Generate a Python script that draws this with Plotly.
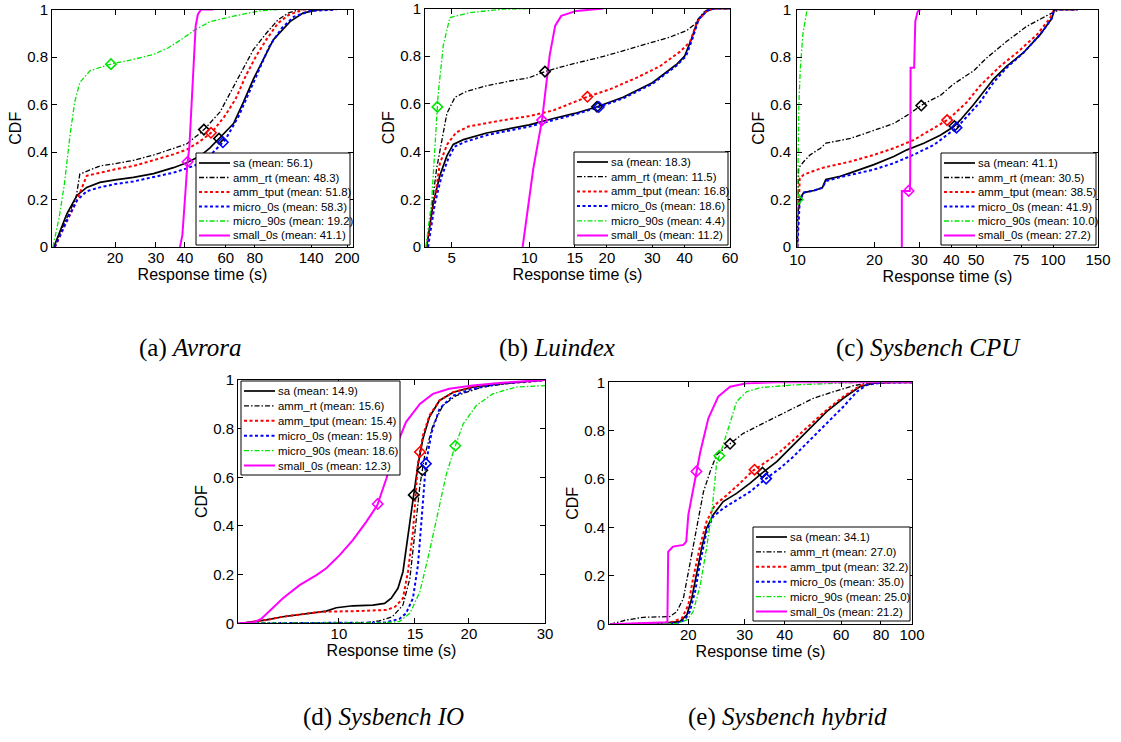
import numpy as np
import plotly.graph_objects as go

# ---------------- data ----------------
SERIES = ["sa", "amm_rt", "amm_tput", "micro_0s", "micro_90s", "small_0s"]

# (a) Avrora
AVRORA_MEANS = [56.1, 48.3, 51.8, 58.3, 19.2, 41.1]
AVRORA_SA_X = [10.9, 12.4, 13.7, 15.1, 17.2, 20, 24, 29.3, 35.7, 40.7, 46.5, 51.3, 56.7, 64.8, 71.5, 78.9, 87.1, 96.2, 113.5, 129.6, 153, 175]
AVRORA_SA_Y = [0, 0.14, 0.217, 0.251, 0.272, 0.283, 0.293, 0.309, 0.334, 0.355, 0.383, 0.417, 0.461, 0.52, 0.61, 0.707, 0.79, 0.873, 0.949, 0.986, 1.0, 1.0]
AVRORA_RT_X = [10.9, 12.3, 13.6, 14.1, 17.2, 20, 24, 29.3, 35.7, 40.7, 46.5, 49.0, 56.7, 64.8, 71.5, 78.9, 89.7, 100.6, 112, 125, 170]
AVRORA_RT_Y = [0, 0.113, 0.21, 0.307, 0.341, 0.351, 0.365, 0.387, 0.414, 0.434, 0.479, 0.5, 0.569, 0.673, 0.756, 0.831, 0.9, 0.956, 0.986, 1.0, 1.0]
AVRORA_TP_X = [11.0, 12.3, 13.7, 15.1, 17.2, 20, 24, 29.3, 35.7, 40.7, 46.5, 52.6, 59.8, 66.2, 73.2, 81.1, 89.7, 100.6, 112, 130, 175]
AVRORA_TP_Y = [0, 0.1, 0.196, 0.30, 0.313, 0.327, 0.341, 0.365, 0.39, 0.41, 0.445, 0.486, 0.555, 0.624, 0.721, 0.804, 0.873, 0.942, 0.977, 1.0, 1.0]
AVRORA_M0_X = [11.0, 12.4, 13.7, 15.1, 17.2, 20, 24, 29.3, 35.7, 40.7, 46.5, 52.6, 59.8, 68.5, 75.7, 83.6, 92.5, 104.5, 118, 139, 180]
AVRORA_M0_Y = [0, 0.113, 0.196, 0.235, 0.251, 0.265, 0.276, 0.293, 0.313, 0.331, 0.352, 0.396, 0.452, 0.555, 0.652, 0.749, 0.845, 0.921, 0.97, 0.994, 1.0]
AVRORA_M90_X = [10.8, 11.5, 12.1, 12.8, 13.4, 14.1, 15.6, 19.0, 24, 29.3, 33.8, 38.5, 43.8, 51.3, 64.8, 83.6, 100]
AVRORA_M90_Y = [0, 0.127, 0.265, 0.472, 0.61, 0.693, 0.742, 0.769, 0.79, 0.811, 0.838, 0.873, 0.912, 0.949, 0.972, 0.994, 1.0]
AVRORA_SM_X = [38.1, 39.0, 40.0, 41.0, 41.8, 42.5, 43.5, 44.5, 45.5, 47, 53]
AVRORA_SM_Y = [0, 0.05, 0.2, 0.35, 0.42, 0.55, 0.75, 0.93, 0.98, 1.0, 1.0]

# (b) Luindex
LUINDEX_MEANS = [18.3, 11.5, 16.8, 18.6, 4.4, 11.2]
LUINDEX_SA_X = [4.0, 4.25, 4.5, 4.79, 5.07, 5.55, 6.83, 8.42, 10, 12.4, 15, 18.2, 23.1, 30, 37.2, 40, 42.6, 45.2, 48.7, 52, 60]
LUINDEX_SA_Y = [0, 0.19, 0.30, 0.382, 0.43, 0.45, 0.478, 0.498, 0.512, 0.539, 0.56, 0.587, 0.628, 0.689, 0.765, 0.80, 0.874, 0.956, 0.99, 1.0, 1.0]
LUINDEX_RT_X = [4.0, 4.2, 4.37, 4.79, 5.15, 5.72, 6.83, 8.42, 10, 11.6, 14.4, 19.4, 26.1, 35.1, 40.8, 43.9, 47.3, 50, 60]
LUINDEX_RT_Y = [0, 0.18, 0.328, 0.56, 0.628, 0.653, 0.676, 0.696, 0.71, 0.737, 0.765, 0.799, 0.84, 0.88, 0.908, 0.935, 0.983, 1.0, 1.0]
LUINDEX_TP_X = [4.0, 4.3, 4.5, 4.8, 5.2, 5.8, 7.94, 10, 12.4, 16.9, 20.6, 26.1, 32.1, 38.4, 42, 44.6, 48.7, 52, 60]
LUINDEX_TP_Y = [0, 0.2, 0.35, 0.43, 0.48, 0.505, 0.532, 0.549, 0.573, 0.631, 0.662, 0.71, 0.758, 0.819, 0.86, 0.942, 0.99, 1.0, 1.0]
LUINDEX_M0_X = [4.05, 4.3, 4.55, 4.85, 5.12, 5.6, 6.9, 8.5, 10, 12.4, 15, 18.6, 23.1, 30, 37.2, 40.5, 42.8, 45.4, 48.9, 52, 60]
LUINDEX_M0_Y = [0, 0.18, 0.29, 0.37, 0.42, 0.44, 0.47, 0.49, 0.505, 0.532, 0.555, 0.587, 0.623, 0.684, 0.76, 0.80, 0.87, 0.955, 0.99, 1.0, 1.0]
LUINDEX_M90_X = [3.97, 4.18, 4.43, 4.64, 4.92, 5.89, 7.94, 10.3]
LUINDEX_M90_Y = [0, 0.19, 0.64, 0.846, 0.962, 0.983, 0.997, 1.0]
LUINDEX_SM_X = [9.42, 9.77, 10.36, 11.2, 12.0, 12.6, 13.3, 15.2, 19.4]
LUINDEX_SM_Y = [0, 0.123, 0.328, 0.532, 0.805, 0.928, 0.969, 0.99, 1.0]

# (c) Sysbench CPU
CPU_MEANS = [41.1, 30.5, 38.5, 41.9, 10.0, 27.2]
CPU_SA_X = [9.98, 10.0, 10.27, 10.58, 11.6, 12.5, 12.9, 14.7, 16.1, 19.9, 23.8, 26.8, 31.2, 36.2, 40.8, 43.3, 48.9, 58.5, 65.9, 76.6, 89, 99, 101, 103, 123]
CPU_SA_Y = [0, 0.139, 0.208, 0.229, 0.238, 0.249, 0.284, 0.298, 0.312, 0.347, 0.381, 0.409, 0.437, 0.471, 0.506, 0.534, 0.60, 0.707, 0.762, 0.818, 0.894, 0.963, 0.997, 1.0, 1.0]
CPU_RT_X = [9.98, 10.1, 10.58, 11.2, 12.3, 12.9, 16.1, 19.9, 23.8, 26.8, 31.2, 36.2, 40.8, 48.9, 55.1, 65.9, 78.9, 94.5, 106, 125]
CPU_RT_Y = [0, 0.333, 0.36, 0.388, 0.416, 0.437, 0.457, 0.492, 0.52, 0.554, 0.603, 0.638, 0.686, 0.742, 0.797, 0.866, 0.929, 0.974, 1.0, 1.0]
CPU_TP_X = [9.98, 10.2, 10.58, 12.5, 16.1, 19.9, 23.8, 28.4, 33.1, 39.0, 46.0, 51.8, 62.2, 72.2, 86.5, 97.3, 101, 125]
CPU_TP_Y = [0, 0.29, 0.305, 0.333, 0.36, 0.388, 0.416, 0.45, 0.492, 0.538, 0.61, 0.679, 0.762, 0.818, 0.894, 0.963, 1.0, 1.0]
CPU_M0_X = [9.98, 10.2, 10.58, 11.6, 12.5, 12.9, 14.7, 19.9, 23.8, 28.4, 34.2, 40.8, 42.3, 51.8, 58.5, 65.9, 76.6, 89, 99, 101, 125]
CPU_M0_Y = [0, 0.194, 0.229, 0.238, 0.249, 0.277, 0.294, 0.326, 0.353, 0.388, 0.43, 0.492, 0.506, 0.61, 0.693, 0.755, 0.818, 0.894, 0.963, 1.0, 1.0]
CPU_M90_X = [9.95, 10.0, 10.05, 10.12, 10.25, 10.5, 10.9]
CPU_M90_Y = [0, 0.2, 0.45, 0.6, 0.75, 0.9, 1.0]
CPU_SM_X = [25.6, 25.6, 27.5, 27.6, 27.7, 28.6, 28.9, 29.5, 30.2]
CPU_SM_Y = [0, 0.236, 0.236, 0.28, 0.755, 0.755, 0.95, 0.99, 1.0]

# (d) Sysbench IO
IO_MEANS = [14.9, 15.6, 15.4, 15.9, 18.6, 12.3]
IO_SA_X = [5.95, 6.8, 7.42, 8.11, 8.87, 9.35, 9.86, 10.77, 11.99, 12.76, 13.22, 13.7, 14.07, 14.45, 14.84, 15.24, 15.65, 16.2, 17.1, 18.4, 20.4, 23.5, 28.1, 30]
IO_SA_Y = [0, 0.014, 0.027, 0.037, 0.045, 0.05, 0.064, 0.072, 0.075, 0.082, 0.103, 0.144, 0.212, 0.349, 0.506, 0.649, 0.759, 0.848, 0.916, 0.95, 0.971, 0.984, 0.994, 1.0]
IO_RT_X = [5.9, 9.0, 11.6, 12.4, 13.3, 14.07, 14.6, 15.0, 15.4, 15.8, 16.5, 17.4, 18.7, 21.5, 25.7, 30]
IO_RT_Y = [0, 0.0, 0.003, 0.01, 0.027, 0.075, 0.185, 0.376, 0.567, 0.69, 0.813, 0.895, 0.936, 0.971, 0.991, 1.0]
IO_TP_X = [5.95, 6.8, 7.42, 8.11, 8.87, 9.35, 9.86, 10.9, 12.9, 13.5, 14.07, 14.45, 14.84, 15.24, 15.65, 16.2, 17.1, 18.4, 20.4, 23.5, 28.1, 30]
IO_TP_Y = [0, 0.014, 0.027, 0.037, 0.045, 0.048, 0.048, 0.05, 0.055, 0.068, 0.103, 0.212, 0.376, 0.66, 0.772, 0.854, 0.916, 0.95, 0.971, 0.984, 0.994, 1.0]
IO_M0_X = [5.9, 12.8, 13.8, 14.3, 14.84, 15.24, 15.5, 15.9, 16.4, 17.1, 18.4, 20.4, 23.5, 30]
IO_M0_Y = [0, 0.003, 0.018, 0.041, 0.103, 0.239, 0.403, 0.656, 0.786, 0.882, 0.936, 0.964, 0.984, 1.0]
IO_M90_X = [5.9, 12.5, 13.8, 14.6, 15.4, 16.2, 17.1, 17.7, 18.5, 19.4, 20.8, 22.7, 25.7, 30]
IO_M90_Y = [0, 0.002, 0.007, 0.041, 0.13, 0.294, 0.485, 0.608, 0.718, 0.82, 0.895, 0.943, 0.971, 0.977]
IO_SM_X = [5.84, 6.32, 6.61, 7.03, 7.42, 8.11, 8.87, 9.35, 10.04, 10.77, 11.57, 12.27, 12.88, 13.6, 14.3, 15.4, 16.5, 18.0, 20.4, 23.5, 30]
IO_SM_Y = [0, 0.003, 0.018, 0.062, 0.103, 0.157, 0.198, 0.226, 0.28, 0.342, 0.417, 0.485, 0.595, 0.731, 0.827, 0.902, 0.943, 0.964, 0.977, 0.988, 1.0]

# (e) Sysbench hybrid
HY_MEANS = [34.1, 27.0, 32.2, 35.0, 25.0, 21.2]
HY_SA_X = [11.4, 16.3, 18.8, 19.8, 20.5, 21.3, 22.0, 22.8, 23.9, 25.7, 28.3, 31.2, 33.9, 37.8, 42.6, 48, 54.1, 61, 68.8, 75.7, 87.5, 100]
HY_SA_Y = [0, 0.004, 0.011, 0.039, 0.107, 0.218, 0.314, 0.397, 0.452, 0.507, 0.541, 0.583, 0.624, 0.672, 0.741, 0.81, 0.879, 0.934, 0.982, 0.996, 1.0, 1.0]
HY_RT_X = [11.4, 12.8, 14.5, 17.5, 18.4, 19.3, 20.2, 21.3, 22.3, 23.4, 24.5, 26.7, 29.7, 33.5, 37.8, 42.6, 49.2, 56.8, 65.6, 72.2, 85, 100]
HY_RT_Y = [0, 0.018, 0.029, 0.032, 0.052, 0.107, 0.245, 0.41, 0.548, 0.631, 0.7, 0.741, 0.789, 0.824, 0.858, 0.893, 0.934, 0.961, 0.986, 0.996, 1.0, 1.0]
HY_TP_X = [11.4, 16.3, 17.9, 19.1, 20, 20.7, 21.8, 22.8, 24.2, 26.4, 29, 31.8, 35.1, 38.7, 42.6, 48, 54.1, 61, 68.8, 75.7, 87.5, 100]
HY_TP_Y = [0, 0.004, 0.011, 0.025, 0.08, 0.19, 0.328, 0.424, 0.493, 0.534, 0.583, 0.634, 0.672, 0.713, 0.762, 0.824, 0.886, 0.941, 0.986, 0.996, 1.0, 1.0]
HY_M0_X = [11.4, 18.4, 19.5, 20.2, 21, 21.8, 22.8, 23.9, 25.7, 28.3, 31.2, 34.5, 38.7, 42.6, 48, 54.1, 61, 67.2, 72.2, 80.8, 87.5, 100]
HY_M0_Y = [0, 0.004, 0.018, 0.052, 0.135, 0.259, 0.383, 0.445, 0.479, 0.514, 0.548, 0.596, 0.645, 0.693, 0.762, 0.831, 0.899, 0.961, 0.989, 0.999, 1.0, 1.0]
HY_M90_X = [11.4, 18.4, 19.8, 20.7, 21.8, 22.8, 23.7, 24.5, 25.7, 27.0, 28.3, 30.4, 33.5, 42.6, 54.1, 68.8, 100]
HY_M90_Y = [0, 0.003, 0.018, 0.052, 0.163, 0.314, 0.466, 0.664, 0.741, 0.837, 0.92, 0.961, 0.978, 0.989, 0.996, 1.0, 1.0]
HY_SM_X = [11.4, 17.2, 17.3, 17.9, 19.3, 19.7, 20.0, 20.7, 21.8, 23.1, 24.8, 27.0, 30.4, 37.8, 100]
HY_SM_Y = [0, 0.008, 0.30, 0.321, 0.328, 0.342, 0.452, 0.562, 0.713, 0.851, 0.941, 0.982, 0.996, 1.0, 1.0]

# tick labels
Y_TICKS = [0, 0.2, 0.4, 0.6, 0.8, 1.0]
Y_TICKTEXT = ["0", "0.2", "0.4", "0.6", "0.8", "1"]
AVRORA_XTICKS = [20, 30, 40, 60, 80, 140, 200]
LUINDEX_XTICKS = [5, 10, 15, 20, 30, 40, 60]
CPU_XTICKS = [10, 20, 30, 40, 50, 75, 100, 150]
IO_XTICKS = [10, 15, 20, 30]
HY_XTICKS = [20, 30, 40, 60, 80, 100]

# ---------------- layout / styling ----------------
W, H = 1121, 742


def fx(px):
    return px / W


def fy(py):
    return 1 - py / H


STYLES = {
    "sa": dict(color="#000000", width=1.7, dash="solid"),
    "amm_rt": dict(color="#000000", width=1.3, dash="5px,2px,1.5px,2px"),
    "amm_tput": dict(color="#ff0000", width=2.0, dash="3px,2.5px"),
    "micro_0s": dict(color="#0000ff", width=2.0, dash="3px,2.5px"),
    "micro_90s": dict(color="#00e600", width=1.3, dash="5px,2px,1.5px,2px"),
    "small_0s": dict(color="#ff00ff", width=2.0, dash="solid"),
}

# box = (left, right, top, bottom) in pixels; xstand/ystand = tick label standoffs
PANELS = [
    dict(box=(52, 353, 9.5, 247), xr=(10.7, 212), xticks=AVRORA_XTICKS, means=AVRORA_MEANS,
         xs=[AVRORA_SA_X, AVRORA_RT_X, AVRORA_TP_X, AVRORA_M0_X, AVRORA_M90_X, AVRORA_SM_X],
         ys=[AVRORA_SA_Y, AVRORA_RT_Y, AVRORA_TP_Y, AVRORA_M0_Y, AVRORA_M90_Y, AVRORA_SM_Y],
         leg=(196, 153, 350, 245), cap=("(a)", "Avrora", 190, 348), xstand=-3, ystand=0),
    dict(box=(425, 730, 8.5, 247), xr=(3.94, 60), xticks=LUINDEX_XTICKS, means=LUINDEX_MEANS,
         xs=[LUINDEX_SA_X, LUINDEX_RT_X, LUINDEX_TP_X, LUINDEX_M0_X, LUINDEX_M90_X, LUINDEX_SM_X],
         ys=[LUINDEX_SA_Y, LUINDEX_RT_Y, LUINDEX_TP_Y, LUINDEX_M0_Y, LUINDEX_M90_Y, LUINDEX_SM_Y],
         leg=(574, 152, 728, 245), cap=("(b)", "Luindex", 557, 348), xstand=-3, ystand=0),
    dict(box=(797, 1098, 9.5, 247), xr=(9.95, 150), xticks=CPU_XTICKS, means=CPU_MEANS,
         xs=[CPU_SA_X, CPU_RT_X, CPU_TP_X, CPU_M0_X, CPU_M90_X, CPU_SM_X],
         ys=[CPU_SA_Y, CPU_RT_Y, CPU_TP_Y, CPU_M0_Y, CPU_M90_Y, CPU_SM_Y],
         leg=(941, 153, 1096, 245), cap=("(c)", "Sysbench CPU", 928, 348), xstand=-1, ystand=2),
    dict(box=(238, 545, 380, 623.3), xr=(5.84, 30), xticks=IO_XTICKS, means=IO_MEANS,
         xs=[IO_SA_X, IO_RT_X, IO_TP_X, IO_M0_X, IO_M90_X, IO_SM_X],
         ys=[IO_SA_Y, IO_RT_Y, IO_TP_Y, IO_M0_Y, IO_M90_Y, IO_SM_Y],
         leg=(241, 381, 400, 475), cap=("(d)", "Sysbench IO", 384, 717), xstand=-3, ystand=0),
    dict(box=(609, 912, 382.3, 624.3), xr=(11.3, 100), xticks=HY_XTICKS, means=HY_MEANS,
         xs=[HY_SA_X, HY_RT_X, HY_TP_X, HY_M0_X, HY_M90_X, HY_SM_X],
         ys=[HY_SA_Y, HY_RT_Y, HY_TP_Y, HY_M0_Y, HY_M90_Y, HY_SM_Y],
         leg=(753, 527, 910, 621), cap=("(e)", "Sysbench hybrid", 787, 717), xstand=-3, ystand=0),
]

SANS = "Liberation Sans, Arial, Helvetica, sans-serif"
SERIF = "Liberation Serif, Times New Roman, serif"

fig = go.Figure()
shapes = []
annotations = []
layout_axes = {}

for i, p in enumerate(PANELS):
    n = "" if i == 0 else str(i + 1)
    xa, ya = "x" + n, "y" + n
    left, right, top, bottom = p["box"]
    # curves
    for s, name in enumerate(SERIES):
        st = STYLES[name]
        fig.add_trace(go.Scatter(
            x=p["xs"][s], y=p["ys"][s], mode="lines", name=name, showlegend=False,
            line=dict(color=st["color"], width=st["width"], dash=st["dash"]),
            xaxis=xa, yaxis=ya, hoverinfo="skip"))
    # mean markers (open diamonds at the mean on each CDF)
    for s, name in enumerate(SERIES):
        st = STYLES[name]
        m = p["means"][s]
        ym = float(np.interp(np.log10(m), np.log10(p["xs"][s]), p["ys"][s]))
        fig.add_trace(go.Scatter(
            x=[m], y=[ym], mode="markers", showlegend=False,
            marker=dict(symbol="diamond-open", size=8, color=st["color"],
                        line=dict(width=1.6, color=st["color"])),
            xaxis=xa, yaxis=ya, hoverinfo="skip"))

    common = dict(showline=True, linecolor="black", linewidth=1, mirror="ticks",
                  ticks="inside", ticklen=5, tickwidth=1, tickcolor="black",
                  showgrid=False, zeroline=False, automargin=False,
                  ticklabeloverflow="allow",
                  tickfont=dict(family=SANS, size=15, color="black"))
    layout_axes["xaxis" + n] = dict(
        common, type="log", domain=[fx(left), fx(right)],
        range=[np.log10(p["xr"][0]), np.log10(p["xr"][1])],
        tickvals=p["xticks"], ticktext=[str(t) for t in p["xticks"]],
        anchor=ya, ticklabelstandoff=p["xstand"],
        title=dict(text="Response time (s)", standoff=0,
                   font=dict(family=SANS, size=16, color="black")))
    layout_axes["yaxis" + n] = dict(
        common, domain=[fy(bottom), fy(top)], range=[0, 1],
        tickvals=Y_TICKS, ticktext=Y_TICKTEXT, anchor=xa, ticklabelstandoff=p["ystand"],
        title=dict(text="CDF", standoff=1,
                   font=dict(family=SANS, size=16, color="black")))

    # hand-made legend box (MATLAB style)
    l0, t0, r0, b0 = p["leg"]
    shapes.append(dict(type="rect", xref="paper", yref="paper",
                       x0=fx(l0), x1=fx(r0), y0=fy(b0), y1=fy(t0),
                       line=dict(color="black", width=1), fillcolor="white", layer="above"))
    step = (b0 - t0 - 19.5) / 5
    for s, name in enumerate(SERIES):
        st = STYLES[name]
        yc = t0 + 10 + s * step
        shapes.append(dict(type="line", xref="paper", yref="paper",
                           x0=fx(l0 + 3), x1=fx(l0 + 34), y0=fy(yc), y1=fy(yc),
                           line=dict(color=st["color"], width=st["width"], dash=st["dash"]),
                           layer="above"))
        annotations.append(dict(
            xref="paper", yref="paper", x=fx(l0 + 35), y=fy(yc), xanchor="left", yanchor="middle",
            text=f"{name} (mean: {p['means'][s]:.1f})", showarrow=False,
            font=dict(family=SANS, size=11.4, color="black")))

    # caption
    tag, title, cx, cy = p["cap"]
    annotations.append(dict(
        xref="paper", yref="paper", x=fx(cx), y=fy(cy), xanchor="center", yanchor="middle",
        text=f"{tag} <i>{title}</i>", showarrow=False,
        font=dict(family=SERIF, size=25, color="black")))

fig.update_layout(
    template="none",
    width=W, height=H, margin=dict(l=0, r=0, t=0, b=0, autoexpand=False),
    paper_bgcolor="white", plot_bgcolor="white",
    showlegend=False, shapes=shapes, annotations=annotations,
    **layout_axes)

# remove the browser's default 8px body margin so the figure sits at the page origin
fig.write_html("out.html", config={"displayModeBar": False},
               post_script="document.body.style.margin='0px';")
